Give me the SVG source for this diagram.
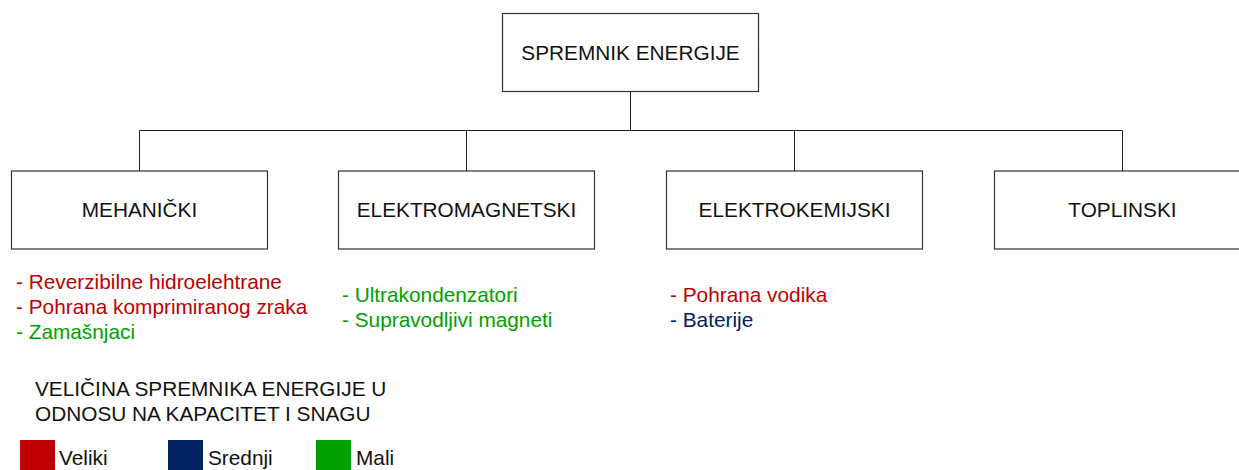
<svg xmlns="http://www.w3.org/2000/svg" width="1239" height="470" viewBox="0 0 1239 470">
<style>
.box{fill:#fff;stroke:#333;stroke-width:1.2}
.conn{fill:none;stroke:#222;stroke-width:1}
.t{font-family:"Liberation Sans",Arial,sans-serif;font-size:20.8px;fill:#111}
.ctr{text-anchor:middle}
.red{fill:#C00000}
.grn{fill:#00A000}
.blu{fill:#002060}
</style>
<rect width="1239" height="470" fill="#fff"/>
<g id="connectors">
<path class="conn" d="M630.5 92 V130.5 M139.5 130.5 H1122.5 M139.5 130.5 V171 M466.5 130.5 V171 M794.5 130.5 V171 M1122.5 130.5 V171"/>
</g>
<g id="root">
<rect class="box" x="502.5" y="13.5" width="256" height="78"/>
<text class="t ctr" x="630.5" y="60">SPREMNIK ENERGIJE</text>
</g>
<g id="mehanicki">
<rect class="box" x="11.5" y="171" width="256" height="78"/>
<text class="t ctr" x="139.5" y="217">MEHANIČKI</text>
</g>
<g id="elektromagnetski">
<rect class="box" x="338.5" y="171" width="256" height="78"/>
<text class="t ctr" x="466.5" y="217">ELEKTROMAGNETSKI</text>
</g>
<g id="elektrokemijski">
<rect class="box" x="666.5" y="171" width="256" height="78"/>
<text class="t ctr" x="794.5" y="217">ELEKTROKEMIJSKI</text>
</g>
<g id="toplinski">
<rect class="box" x="994.5" y="171" width="256" height="78"/>
<text class="t ctr" x="1122.5" y="217">TOPLINSKI</text>
</g>
<g id="list-mehanicki">
<text class="t red" x="16" y="289">- Reverzibilne hidroelehtrane</text>
<text class="t red" x="16" y="314">- Pohrana komprimiranog zraka</text>
<text class="t grn" x="16" y="339">- Zamašnjaci</text>
</g>
<g id="list-elektromagnetski">
<text class="t grn" x="342" y="302">- Ultrakondenzatori</text>
<text class="t grn" x="342" y="327">- Supravodljivi magneti</text>
</g>
<g id="list-elektrokemijski">
<text class="t red" x="670" y="302">- Pohrana vodika</text>
<text class="t blu" x="670" y="327">- Baterije</text>
</g>
<g id="legend">
<text class="t" x="35" y="396">VELIČINA SPREMNIKA ENERGIJE U</text>
<text class="t" x="35" y="421">ODNOSU NA KAPACITET I SNAGU</text>
<rect x="20" y="440" width="35" height="35" fill="#C00000"/>
<text class="t" x="59" y="465">Veliki</text>
<rect x="168" y="440" width="35" height="35" fill="#002060"/>
<text class="t" x="208" y="465">Srednji</text>
<rect x="316" y="440" width="35" height="35" fill="#00A000"/>
<text class="t" x="356" y="465">Mali</text>
</g>
</svg>
